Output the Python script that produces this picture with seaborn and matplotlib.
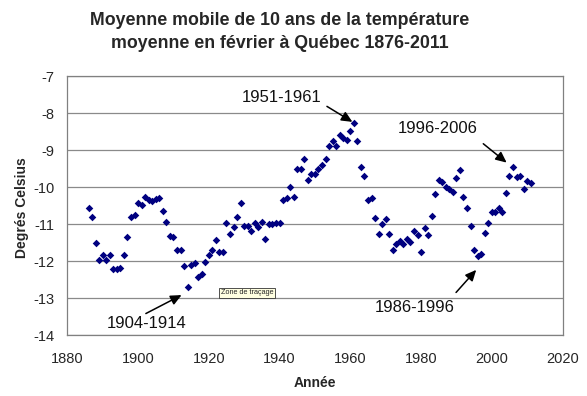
import matplotlib
matplotlib.use('Agg')
import matplotlib.pyplot as plt
import pandas as pd
import seaborn as sns
from matplotlib.ticker import MultipleLocator

years = list(range(1886, 2012))
temp = [
    -10.57, -10.81, -11.52, -11.97, -11.83, -11.98, -11.83, -12.21, -12.21, -12.19,
    -11.83, -11.35, -10.82, -10.76, -10.44, -10.49, -10.28, -10.35, -10.38, -10.32,
    -10.30, -10.64, -10.94, -11.32, -11.35, -11.70, -11.69, -12.14, -12.70, -12.10,
    -12.05, -12.43, -12.36, -12.02, -11.83, -11.69, -11.44, -11.75, -11.75, -10.97,
    -11.27, -11.07, -10.82, -10.43, -11.06, -11.05, -11.18, -10.97, -11.07, -10.95,
    -11.40, -11.00, -11.01, -10.98, -10.98, -10.35, -10.29, -10.00, -10.26, -9.51,
    -9.52, -9.24, -9.80, -9.64, -9.64, -9.51, -9.40, -9.24, -8.90, -8.76,
    -8.89, -8.59, -8.67, -8.74, -8.49, -8.28, -8.76, -9.46, -9.71, -10.35,
    -10.29, -10.85, -11.27, -11.00, -10.87, -11.26, -11.69, -11.55, -11.46, -11.53,
    -11.40, -11.49, -11.18, -11.31, -11.75, -11.12, -11.30, -10.77, -10.19, -9.81,
    -9.86, -9.99, -10.05, -10.14, -9.76, -9.54, -10.27, -10.57, -11.05, -11.71,
    -11.86, -11.80, -11.23, -10.97, -10.67, -10.67, -10.58, -10.68, -10.15, -9.71,
    -9.46, -9.73, -9.71, -10.06, -9.83, -9.88,
]
labels = ['1951-1961', '1904-1914', '1986-1996', '1996-2006']
label_xy = [(1940.7, -7.57), (1902.4, -13.70), (1978.1, -13.26), (1984.8, -8.43)]
arrow_from = [(1953.4, -7.82), (1902.2, -13.42), (1989.9, -12.85), (1997.6, -8.83)]
arrow_to = [(1960.6, -8.24), (1912.3, -12.92), (1995.6, -12.24), (2004.2, -9.34)]

df = pd.DataFrame({'Année': years, 'Temp': temp})

sns.set_style('white')
plt.rcParams['font.family'] = ['Liberation Sans', 'DejaVu Sans']
plt.rcParams['axes.unicode_minus'] = False

fig = plt.figure(figsize=(5.87, 3.96), dpi=100)
ax = fig.add_axes([0.1147, 0.154, 0.8436, 0.654])

sns.scatterplot(data=df, x='Année', y='Temp', marker='D', color='#000080',
                s=15, linewidth=0, ax=ax, zorder=3)

ax.set_xlim(1880, 2020)
ax.set_ylim(-14, -7)
ax.xaxis.set_major_locator(MultipleLocator(20))
ax.xaxis.set_minor_locator(MultipleLocator(10))
ax.yaxis.set_major_locator(MultipleLocator(1))
ax.grid(axis='y', color='#8a8a8a', linewidth=0.9)
ax.tick_params(axis='both', which='both', direction='out', length=4, width=0.8,
               color='#777777', labelsize=10.5, pad=3)
ax.tick_params(axis='x', which='major', pad=8)
ax.tick_params(axis='y', which='major', pad=5)
ax.tick_params(axis='x', which='minor', length=3)
for sp in ax.spines.values():
    sp.set_color('#808080')
    sp.set_linewidth(0.9)
ax.set_xlabel('')
ax.set_ylabel('')

for lab, xy, a0, a1 in zip(labels, label_xy, arrow_from, arrow_to):
    ax.text(xy[0], xy[1], lab, ha='center', va='center', fontsize=12, color='#111111')
    ax.annotate('', xy=a1, xytext=a0,
                arrowprops=dict(arrowstyle='-|>,head_length=0.65,head_width=0.3',
                                color='black', lw=1.1,
                                mutation_scale=10, shrinkA=0, shrinkB=0))

ax.text(1923.4, -12.86, 'Zone de traçage', ha='left', va='center', fontsize=5.2,
        bbox=dict(boxstyle='square,pad=0.25', fc='#ffffe1', ec='#333333', lw=0.6),
        zorder=5)

fig.text(0.477, 1 - 32 / 396, 'Moyenne mobile de 10 ans de la température\nmoyenne en février à Québec 1876-2011',
         ha='center', va='center', fontsize=12.8, fontweight='bold', linespacing=1.4)
fig.text(22 / 587, 1 - 208 / 396, 'Degrés Celsius', rotation=90, ha='center', va='center',
         fontsize=10, fontweight='bold')
fig.text(315 / 587, 1 - 383 / 396, 'Année', ha='center', va='center',
         fontsize=10, fontweight='bold')

fig.savefig('out.png', dpi=100)
